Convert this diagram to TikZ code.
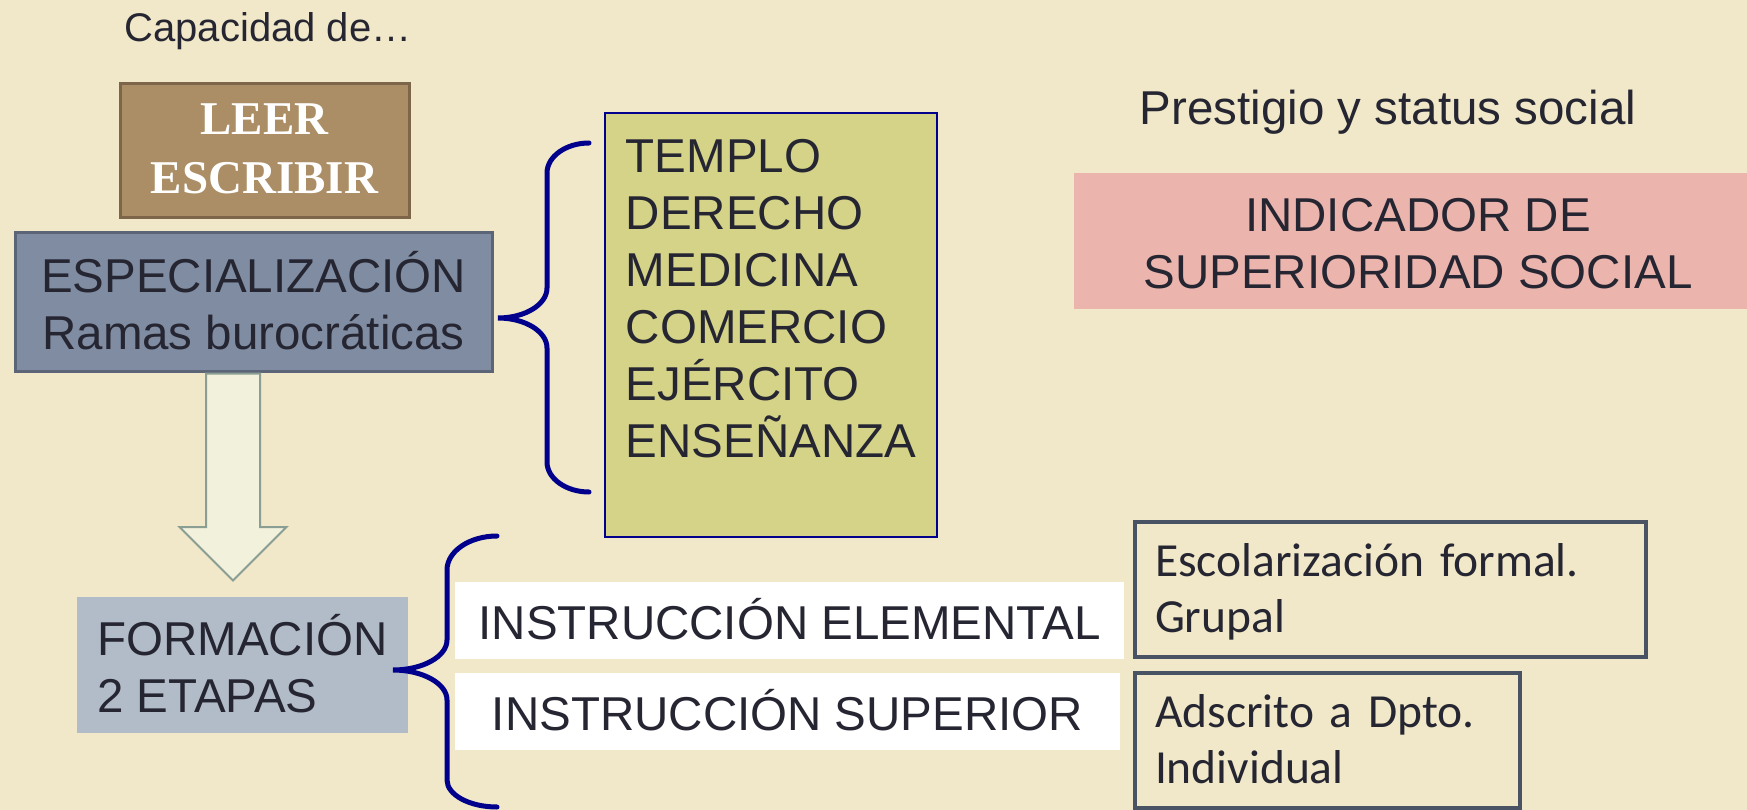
\documentclass[tikz,border=0pt]{standalone}
\usepackage{fontspec}
\setmainfont{Liberation Sans}
\newfontfamily\seriffont{Liberation Serif}
\newfontfamily\notefont{Carlito}
\usepackage{tikz}
\usetikzlibrary{shapes.arrows, positioning}

\definecolor{parchment}{RGB}{240,232,200}
\definecolor{darktext}{RGB}{38,38,51}
\definecolor{leerfill}{RGB}{172,142,102}
\definecolor{leerborder}{RGB}{125,101,73}
\definecolor{specfill}{RGB}{127,140,161}
\definecolor{specborder}{RGB}{92,101,119}
\definecolor{stagefill}{RGB}{178,188,200}
\definecolor{listfill}{RGB}{213,211,136}
\definecolor{pinkfill}{RGB}{235,181,174}
\definecolor{noteborder}{RGB}{74,83,99}
\definecolor{navy}{RGB}{0,0,140}
\definecolor{arrowfill}{RGB}{242,241,219}
\definecolor{arrowborder}{RGB}{138,158,148}

\newcommand{\bigtext}{\fontsize{47.5pt}{57pt}\selectfont}
\newcommand{\smalltext}{\fontsize{40pt}{48pt}\selectfont}
\newcommand{\leertext}{\seriffont\bfseries\fontsize{47pt}{59pt}\selectfont}
\newcommand{\notetext}{\notefont\fontsize{47.5pt}{56pt}\selectfont}
\newcommand{\cajastrut}{\rule[-10pt]{0pt}{57pt}}
\newcommand{\leerstrut}{\rule[-16pt]{0pt}{59pt}}
\newcommand{\notastrut}{\rule[-13.5pt]{0pt}{56pt}}

\tikzstyle{leer_box} = [rectangle, draw=leerborder, fill=leerfill, line width=3pt, inner sep=0pt, text=white, font=\leertext, align=center]
\tikzstyle{spec_box} = [rectangle, draw=specborder, fill=specfill, line width=3pt, inner sep=0pt, text=darktext, font=\bigtext, align=center]
\tikzstyle{stage_box} = [rectangle, fill=stagefill, inner sep=0pt, text=darktext, font=\bigtext, align=left]
\tikzstyle{list_box} = [rectangle, draw=navy, fill=listfill, line width=1.5pt, inner sep=0pt, text=darktext, font=\bigtext, align=left]
\tikzstyle{status_box} = [rectangle, fill=pinkfill, inner sep=0pt, text=darktext, font=\bigtext, align=center]
\tikzstyle{instr_box} = [rectangle, fill=white, inner sep=0pt, text=darktext, font=\bigtext, align=center]
\tikzstyle{note_box} = [rectangle, draw=noteborder, line width=3.5pt, inner xsep=20pt, inner ysep=0pt, text=darktext, font=\notetext, align=left]
\tikzstyle{caption} = [inner sep=0pt, anchor=base, text=darktext]
\tikzstyle{brace_line} = [draw=navy, line width=5pt, line cap=round]
\tikzstyle{down_arrow} = [single arrow, draw=arrowborder, fill=arrowfill, line width=2pt, inner xsep=0pt, inner ysep=26pt, minimum height=207pt, minimum width=105pt, single arrow head extend=26.5pt, single arrow tip angle=90, single arrow head indent=0pt]

\begin{document}
\begin{tikzpicture}[x=1pt, y=-1pt]

    \fill [parchment] (0, 0) rectangle (1747, 810);
    \useasboundingbox (0, 0) rectangle (1747, 810);

    \node (capacidad) [caption, font=\smalltext] at (268, 42) {Capacidad de…};
    \node (prestigio) [caption, font=\bigtext] at (1388, 125) {Prestigio y status social};

    \node (leer) [leer_box, minimum width=289pt, minimum height=134pt] at (264.5, 151)
        {\leerstrut LEER\\\leerstrut ESCRIBIR};
    \node (especializacion) [spec_box, minimum width=477pt, minimum height=138pt] at (253.5, 302)
        {\cajastrut ESPECIALIZACIÓN\\\cajastrut Ramas burocráticas};
    \node (formacion) [stage_box, minimum width=331pt, minimum height=136pt] at (242.5, 665)
        {\cajastrut FORMACIÓN\\\cajastrut 2 ETAPAS};

    \node (ramas) [list_box, minimum width=332pt, minimum height=424pt] at (771, 325)
        {\cajastrut TEMPLO\\\cajastrut DERECHO\\\cajastrut MEDICINA\\\cajastrut COMERCIO\\\cajastrut EJÉRCITO\\\cajastrut ENSEÑANZA\\\cajastrut};

    \node (indicador) [status_box, minimum width=688pt, minimum height=136pt] at (1418, 241)
        {\cajastrut INDICADOR DE\\\cajastrut SUPERIORIDAD SOCIAL};

    \node (elemental) [instr_box, minimum width=669pt, minimum height=77pt] at (789.5, 620.5)
        {\cajastrut INSTRUCCIÓN ELEMENTAL};
    \node (superior) [instr_box, minimum width=665pt, minimum height=77pt] at (787.5, 711.5)
        {\cajastrut INSTRUCCIÓN SUPERIOR};

    \node (grupal) [note_box, text width=471pt, minimum height=135pt] at (1390.5, 589.5)
        {\notastrut Escolarización formal.\\\notastrut Grupal};
    \node (individual) [note_box, text width=345pt, minimum height=135pt] at (1327.5, 740.5)
        {\notastrut Adscrito a Dpto.\\\notastrut Individual};

    % brace towards the list of branches
    \coordinate (llave1_top) at (589, 143);
    \coordinate (llave1_tip) at (498, 318);
    \coordinate (llave1_bot) at (589, 492);
    \draw [brace_line] (llave1_top) .. controls (566, 143) and (547, 156.5) .. (547, 173)
        -- (547, 288) .. controls (547, 304.5) and (525, 318) .. (llave1_tip)
        .. controls (525, 318) and (547, 331.5) .. (547, 348)
        -- (547, 462) .. controls (547, 478.5) and (566, 492) .. (llave1_bot);

    % brace towards the two stages
    \coordinate (llave2_top) at (497, 536);
    \coordinate (llave2_tip) at (393, 670);
    \coordinate (llave2_bot) at (497, 807);
    \draw [brace_line] (llave2_top) .. controls (469.5, 536) and (447, 551.3) .. (447, 570)
        -- (447, 640) .. controls (447, 656.5) and (422.7, 670) .. (llave2_tip)
        .. controls (422.7, 670) and (447, 683.5) .. (447, 700)
        -- (447, 780) .. controls (447, 794.9) and (469.5, 807) .. (llave2_bot);

    \node (flecha) [down_arrow, rotate=-90, anchor=tail] at ([xshift=-20.5pt]especializacion.south) {};

\end{tikzpicture}
\end{document}
